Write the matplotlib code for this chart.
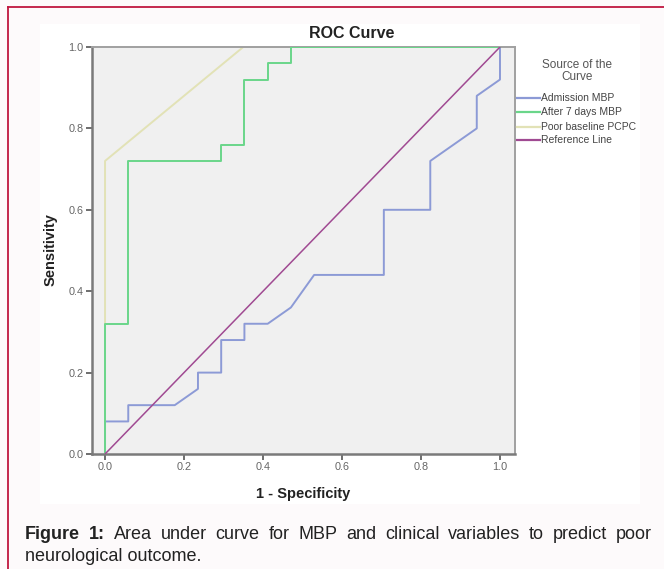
import matplotlib
matplotlib.use("Agg")
import matplotlib.pyplot as plt
from matplotlib.lines import Line2D
from matplotlib.patches import Rectangle

plt.rcParams['font.family'] = ['Liberation Sans', 'DejaVu Sans']

# ---- data (ROC points) ----
adm_x = [0.0, 0.0, 0.0588, 0.0588, 0.1765, 0.2353, 0.2353, 0.2941, 0.2941, 0.3529, 0.3529,
         0.4118, 0.4706, 0.5294, 0.7059, 0.7059, 0.8235, 0.8235, 0.9412, 0.9412, 1.0, 1.0]
adm_y = [0.0, 0.08, 0.08, 0.12, 0.12, 0.16, 0.20, 0.20, 0.28, 0.28, 0.32,
         0.32, 0.36, 0.44, 0.44, 0.60, 0.60, 0.72, 0.80, 0.88, 0.92, 1.0]

d7_x = [0.0, 0.0, 0.0588, 0.0588, 0.2941, 0.2941, 0.3529, 0.3529, 0.4118, 0.4118, 0.4706, 0.4706, 1.0]
d7_y = [0.0, 0.32, 0.32, 0.72, 0.72, 0.76, 0.76, 0.92, 0.92, 0.96, 0.96, 1.0, 1.0]

pcpc_x = [0.0, 0.0, 0.35, 1.0]
pcpc_y = [0.0, 0.72, 1.0, 1.0]

ref_x = [0.0, 1.0]
ref_y = [0.0, 1.0]

series_names = ["Admission MBP", "After 7 days MBP", "Poor baseline PCPC", "Reference Line"]
series_colors = ["#8c9ad6", "#6ad68a", "#e2e2b6", "#a04a92"]
x_ticks = [0.0, 0.2, 0.4, 0.6, 0.8, 1.0]
y_ticks = [0.0, 0.2, 0.4, 0.6, 0.8, 1.0]

W, H = 664, 569
fig = plt.figure(figsize=(W / 100, H / 100), dpi=100)
fig.patch.set_facecolor("#fdfafb")

def fx(px):
    return px / W

def fy(py):
    return 1 - py / H

# red border (left and top)
fig.add_artist(Line2D([fx(8), fx(8)], [fy(7), 0], color="#c0173f", lw=1.3))
fig.add_artist(Line2D([fx(8), 1], [fy(7), fy(7)], color="#c0173f", lw=1.3))
# white chart panel
fig.add_artist(Rectangle((fx(40), fy(504)), fx(640) - fx(40), fy(24) - fy(504),
                         facecolor="white", edgecolor="none", zorder=0))

ax = fig.add_axes([fx(92), fy(454), fx(515) - fx(92), fy(47) - fy(454)])
ax.set_facecolor("#f0f0f0")
ax.set_xlim(-0.033, 1.038)
ax.set_ylim(0.0, 1.0)

lw = 1.4
ax.plot(adm_x, adm_y, color=series_colors[0], lw=lw, zorder=3)
ax.plot(d7_x, d7_y, color=series_colors[1], lw=lw, zorder=4)
ax.plot(pcpc_x, pcpc_y, color=series_colors[2], lw=lw, zorder=2)
ax.plot(ref_x, ref_y, color=series_colors[3], lw=1.1, zorder=5)

for side in ["left", "bottom"]:
    ax.spines[side].set_color("#7a7a7a")
    ax.spines[side].set_linewidth(1.8)
for side in ["top", "right"]:
    ax.spines[side].set_color("#a0a0a0")
    ax.spines[side].set_linewidth(1.4)

ax.set_xticks(x_ticks)
ax.set_yticks(y_ticks)
ax.set_xticklabels([f"{v:.1f}" for v in x_ticks])
ax.set_yticklabels([f"{v:.1f}" for v in y_ticks])
ax.tick_params(axis="both", length=4, width=1.2, color="#555555",
               labelsize=7.8, labelcolor="#666666", pad=2)

fig.text(fx(352), fy(34), "ROC Curve", fontsize=11.5, fontweight="bold", color="#222222",
         ha="center", va="center")
fig.text(fx(303), fy(494), "1 - Specificity", fontsize=10.5, fontweight="bold",
         color="#222222", ha="center", va="center")
fig.text(fx(51), fy(250), "Sensitivity", fontsize=10.5, fontweight="bold",
         color="#222222", ha="center", va="center", rotation=90)

# legend (SPSS style, drawn in figure pixels)
fig.text(fx(577), fy(65), "Source of the", fontsize=8.5, color="#555555",
         ha="center", va="center")
fig.text(fx(577), fy(77), "Curve", fontsize=8.5, color="#555555",
         ha="center", va="center")
row_y = [98, 112, 127, 140]
for name, col, ry in zip(series_names, series_colors, row_y):
    fig.add_artist(Line2D([fx(517), fx(540)], [fy(ry), fy(ry)], color=col, lw=1.6))
    fig.text(fx(541), fy(ry), name, fontsize=7.5, color="#444444", ha="left", va="center")

# caption (justified first line)
fig.canvas.draw()
renderer = fig.canvas.get_renderer()
line1 = [("Figure", "bold"), ("1:", "bold")] + [(w, "normal") for w in
        "Area under curve for MBP and clinical variables to predict poor".split()]
left_px, right_px = 25, 652
cap_size = 13
texts = []
widths = []
for word, wt in line1:
    t = fig.text(0, fy(539), word, fontsize=cap_size, fontweight=wt, color="#222222",
                 ha="left", va="baseline")
    bb = t.get_window_extent(renderer)
    texts.append(t)
    widths.append(bb.width)
gap = (right_px - left_px - sum(widths)) / (len(widths) - 1)
x = left_px
for t, w in zip(texts, widths):
    t.set_x(fx(x))
    x += w + gap
fig.text(fx(left_px), fy(561), "neurological outcome.", fontsize=cap_size, color="#222222",
         ha="left", va="baseline")

fig.savefig("out.png", dpi=100, facecolor=fig.get_facecolor())
